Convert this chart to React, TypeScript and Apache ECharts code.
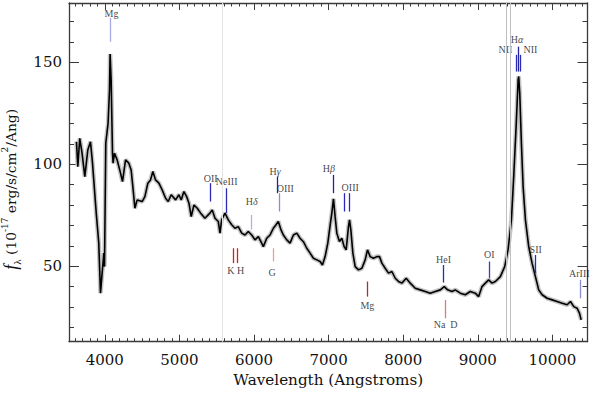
import React, { useEffect, useRef } from "react";
import * as echarts from "echarts";

// ---- spectrum ----
const wavelength = [
  3620, 3638, 3664, 3695, 3732, 3772, 3808, 3835, 3875, 3889, 3919, 3942, 3964, 3987, 3996,
  4013, 4044, 4063, 4071, 4085, 4103, 4111, 4130, 4165, 4211, 4237, 4278, 4322, 4353, 4380,
  4403, 4434, 4501, 4537, 4577, 4613, 4644, 4680, 4725, 4769, 4815, 4850, 4890, 4949, 4993,
  5024, 5060, 5097, 5128, 5158, 5195, 5239, 5285, 5342, 5409, 5440, 5477, 5521, 5544, 5566,
  5611, 5655, 5701, 5745, 5789, 5835, 5879, 5923, 5969, 6013, 6058, 6103, 6125, 6170, 6215,
  6259, 6295, 6326, 6362, 6393, 6439, 6483, 6528, 6573, 6617, 6662, 6707, 6752, 6796, 6842,
  6886, 6917, 6953, 6989, 7020, 7043, 7065, 7087, 7110, 7145, 7177, 7208, 7235, 7266, 7280,
  7298, 7325, 7356, 7400, 7446, 7490, 7521, 7557, 7601, 7646, 7682, 7714, 7758, 7803, 7848,
  7893, 7937, 7982, 8040, 8094, 8161, 8228, 8295, 8362, 8430, 8497, 8550, 8595, 8654, 8698,
  8765, 8832, 8899, 8966, 9011, 9056, 9101, 9145, 9190, 9235, 9302, 9360, 9405, 9450, 9481,
  9513, 9540, 9548, 9562, 9584, 9607, 9638, 9682, 9727, 9772, 9816, 9862, 9929, 9996, 10063,
  10130, 10197, 10242, 10286, 10331, 10362, 10385,
];
const flux = [
  111, 98.8, 112.7, 105.4, 93.9, 107, 111, 100.5, 80.9, 74.3, 61.3, 36.8, 46.6, 56.4, 49.8,
  110.3, 120.1, 136.4, 154, 141.3, 105.4, 100.5, 105.4, 102.1, 95.6, 91.5, 102.1, 100.5, 97.2, 87.4,
  78.4, 82.5, 81.7, 84.1, 90.7, 92.3, 96.4, 92.3, 90.7, 87.4, 83.3, 81.7, 85, 82.5, 85,
  82.5, 86.6, 84.1, 80.9, 74.3, 80, 78.4, 76, 73.5, 76, 77.6, 73.5, 71.9, 66.2, 72.7,
  76, 72.7, 70.3, 68.6, 69.4, 66.2, 65.3, 67, 65.3, 62.9, 64.5, 61.3, 59.6, 63.7, 65.3,
  68.6, 70.3, 71.9, 67.8, 65.3, 62.9, 61.3, 65.3, 66.2, 63.7, 62, 58.8, 56.4, 53.9, 53.1,
  52.3, 50.6, 54.7, 61.3, 70, 76, 83, 74.3, 66.2, 62.1, 63.7, 59.6, 58, 69.4, 72.7,
  67.8, 56.4, 49.8, 48.2, 49, 53.1, 58, 54.7, 53.9, 54.7, 54.7, 51.5, 49, 46.6, 47.4,
  44.1, 42.5, 41.7, 44.1, 41.7, 39.2, 38.4, 37.6, 36.8, 37.6, 38.4, 40, 38.4, 37.6, 38.4,
  36.8, 36, 37.6, 36.8, 35.1, 40, 41.7, 43.3, 41.7, 42.5, 44.9, 49.8, 58, 72.7, 93.9,
  118.4, 141.3, 143, 134.8, 110.3, 89, 72.7, 59.6, 51.5, 44.9, 38.4, 36, 34.3, 33.5, 32.7,
  31.9, 31.1, 32.7, 30.2, 29.4, 27, 23.7,
];

// ---- axes ----
const xRange = [3520, 10470];
const yRange = [13, 179];
const xTickLabels = [4000, 5000, 6000, 7000, 8000, 9000, 10000];
const yTickLabels = [50, 100, 150];

// ---- grey vertical (sky) lines ----
const skyWave = [5580, 9378, 9440];
const skyColor = ["#e4e4e4", "#c0c0c0", "#c0c0c0"];

// ---- line identification markers ----
const markWave = [4067, 5417, 5623, 5962, 6308, 6342, 7066, 7208, 7277, 5718, 5769, 6256, 7522, 8541, 8566, 9158, 9774, 10373, 9540, 9518, 9569];
const markLow = [160, 81.7, 76, 68, 85.8, 76.8, 85.8, 76.8, 76.8, 51.5, 51.5, 52.3, 35.1, 42, 24.5, 44.1, 46.6, 34.3, 145.4, 145.4, 145.4];
const markHigh = [171.7, 90.7, 88.2, 75.1, 93.9, 85.8, 94.8, 85.8, 85.8, 58.8, 58.8, 58.8, 42.5, 50.6, 33.5, 52.3, 55.5, 43.3, 157.6, 153.6, 153.6];
const markColor = [
  "#a8a8e0", "#2a2ab8", "#2a2ab8", "#b0b0e4", "#22229a", "#8c8cd8", "#22229a", "#2a2ab8", "#2a2ab8",
  "#d02020", "#d02020", "#e6a0a0", "#a83030", "#2a2ab8", "#d08080", "#3a3acc", "#2a2ab8", "#8c8cd0",
  "#22229a", "#2a2ab8", "#2a2ab8",
];

// ---- marker labels ----
const labelText = ["Mg", "OII", "NeIII", "H{g|δ}", "H{g|γ}", "OIII", "H{g|β}", "OIII", "K H", "G", "Mg", "HeI", "Na  D", "OI", "SII", "ArIII", "H{g|α}", "NII", "NII"];
const labelWave = [4090, 5420, 5633, 5970, 6282, 6420, 7002, 7289, 5755, 6244, 7519, 8541, 8568, 9154, 9776, 10360, 9525, 9369, 9705];
const labelFlux = [173.7, 93.1, 91.5, 81.9, 96.4, 88.2, 98, 88.7, 47.8, 46.9, 30.5, 53.1, 21.2, 55.5, 58, 46.2, 160.9, 156.2, 156.2];

const axisFont = "DejaVu Serif";
const serif = "Liberation Serif";
const axisColor = "#3a3a3a";

const xMinor: number[] = [];
for (let v = 3600; v <= 10400; v += 100) if (v % 1000 !== 0) xMinor.push(v);
const yMinor: number[] = [];
for (let v = 20; v <= 170; v += 10) if (v % 50 !== 0) yMinor.push(v);

function xAxis(position: "top" | "bottom", ticks: number[], len: number, main: boolean, labels: boolean) {
  return {
    type: "value",
    position,
    min: xRange[0],
    max: xRange[1],
    splitLine: { show: false },
    axisLine: { show: main, onZero: false, lineStyle: { color: axisColor, width: 1.3 } },
    axisTick: { show: true, inside: true, length: len, customValues: ticks, lineStyle: { color: axisColor, width: 1 } },
    axisLabel: {
      show: labels,
      customValues: xTickLabels,
      formatter: (v: number) => String(v),
      fontFamily: axisFont,
      fontSize: 15,
      color: "#111",
      margin: 11,
    },
    ...(labels
      ? {
          name: "Wavelength (Angstroms)",
          nameLocation: "middle",
          nameGap: 31,
          nameTextStyle: { fontFamily: axisFont, fontSize: 15.2, color: "#111" },
        }
      : {}),
  };
}

function yAxis(position: "left" | "right", ticks: number[], len: number, main: boolean, labels: boolean) {
  return {
    type: "value",
    position,
    min: yRange[0],
    max: yRange[1],
    splitLine: { show: false },
    axisLine: { show: main, onZero: false, lineStyle: { color: axisColor, width: 1.3 } },
    axisTick: { show: true, inside: true, length: len, customValues: ticks, lineStyle: { color: axisColor, width: 1 } },
    axisLabel: {
      show: labels,
      customValues: yTickLabels,
      formatter: (v: number) => String(v),
      fontFamily: axisFont,
      fontSize: 15,
      color: "#111",
      margin: 7,
    },
    ...(labels
      ? {
          name: "{f|f}{s|λ}{t| (10}{p|-17}{t| erg/s/cm}{p|2}{t|/Ang)}",
          nameLocation: "middle",
          nameGap: 40,
          nameRotate: 90,
          nameTextStyle: {
            color: "#111",
            padding: [0, 34, 0, 0],
            rich: {
              f: { fontFamily: serif, fontStyle: "italic", fontSize: 18, lineHeight: 22, color: "#111" },
              s: { fontFamily: serif, fontSize: 11, lineHeight: 11, verticalAlign: "bottom", color: "#111" },
              t: { fontFamily: axisFont, fontSize: 13.8, lineHeight: 22, color: "#111" },
              p: { fontFamily: axisFont, fontSize: 9, lineHeight: 10, verticalAlign: "top", color: "#111" },
            },
          },
        }
      : {}),
  };
}

export default function App() {
  const ref = useRef<HTMLDivElement>(null);
  useEffect(() => {
    if (!ref.current) return;
    const chart = echarts.init(ref.current, null, { renderer: "svg" });
    const pts = wavelength.map((w, i) => [w, flux[i]]);
    const option: any = {
      animation: false,
      backgroundColor: "#ffffff",
      grid: { left: 69, right: 6.5, top: 3, bottom: 54.3, containLabel: false, outerBoundsMode: "none" },
      xAxis: [
        xAxis("bottom", xTickLabels, 7, true, true),
        xAxis("bottom", xMinor, 3.5, false, false),
        xAxis("top", xTickLabels, 7, true, false),
        xAxis("top", xMinor, 3.5, false, false),
      ],
      yAxis: [
        yAxis("left", yTickLabels, 10, true, true),
        yAxis("left", yMinor, 5, false, false),
        yAxis("right", yTickLabels, 10, true, false),
        yAxis("right", yMinor, 5, false, false),
      ],
      series: [
        {
          type: "line",
          data: pts,
          showSymbol: false,
          symbol: "none",
          lineStyle: { color: "#c4c4c4", width: 4.5 },
          z: 1,
          silent: true,
          markLine: {
            silent: true,
            symbol: "none",
            label: { show: false },
            data: skyWave.map((w, i) => ({ xAxis: w, lineStyle: { color: skyColor[i], width: 1, type: "solid" } })),
          },
        },
        {
          type: "line",
          data: pts,
          showSymbol: false,
          symbol: "none",
          lineStyle: { color: "#000000", width: 1.6 },
          z: 3,
          silent: true,
          markLine: {
            silent: true,
            symbol: "none",
            label: { show: false },
            data: markWave.map((w, i) => [
              { coord: [w, markLow[i]], lineStyle: { color: markColor[i], width: 1.3, type: "solid" } },
              { coord: [w, markHigh[i]] },
            ]),
          },
        },
        {
          type: "scatter",
          symbolSize: 0,
          silent: true,
          z: 4,
          data: labelWave.map((w, i) => ({ value: [w, labelFlux[i]], label: { formatter: labelText[i] } })),
          label: {
            show: true,
            position: "inside",
            fontFamily: serif,
            fontSize: 10,
            color: "#111",
            rich: {
              g: { fontFamily: serif, fontStyle: "italic", fontSize: 10, color: "#111" },
            },
          },
        },
      ],
    };
    chart.setOption(option);
    return () => chart.dispose();
  }, []);
  return (
    <div
      ref={ref}
      style={{ position: "absolute", left: 0, top: 0, width: 594, height: 396, background: "#fff" }}
    />
  );
}
